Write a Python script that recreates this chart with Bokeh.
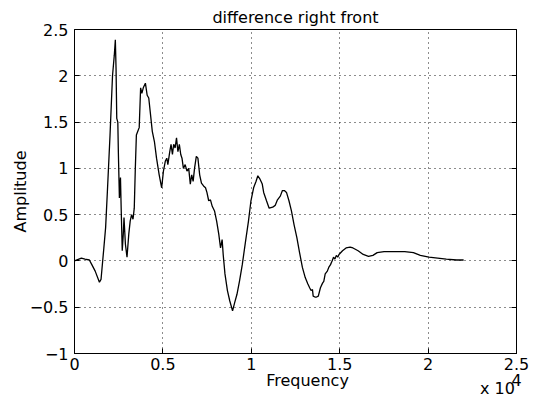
from bokeh.plotting import figure
from bokeh.models import Range1d, FixedTicker, LinearAxis
from bokeh.embed import file_html
from bokeh.resources import INLINE

# ---- data ----
freq = [0, 390, 590, 840, 980, 1170, 1410, 1500, 1660, 1760, 1860, 2010, 2150, 2250, 2310,
        2350, 2390, 2450, 2480, 2540, 2600, 2640, 2700, 2760, 2800, 2880, 2970, 3070, 3150,
        3230, 3310, 3380, 3440, 3500, 3580, 3660, 3740, 3810, 3890, 4010, 4110, 4200, 4300,
        4400, 4520, 4640, 4790, 4930, 5030, 5140, 5220, 5280, 5380, 5460, 5540, 5610, 5690,
        5770, 5850, 5930, 6010, 6080, 6160, 6260, 6360, 6460, 6550, 6630, 6710, 6790, 6890,
        6980, 7080, 7180, 7300, 7410, 7490, 7590, 7690, 7790, 7920, 8040, 8160, 8260, 8350,
        8410, 8510, 8650, 8780, 8940, 9060, 9190, 9330, 9490, 9680, 9840, 9980, 10130, 10270,
        10370, 10500, 10620, 10700, 10860, 11010, 11210, 11350, 11480, 11640, 11760, 11870,
        11990, 12130, 12270, 12420, 12580, 12730, 12890, 13050, 13200, 13300, 13380, 13460,
        13500, 13600, 13690, 13790, 13910, 14030, 14100, 14180, 14300, 14380, 14480, 14570,
        14650, 14730, 14810, 14890, 14960, 15160, 15360, 15590, 15750, 16040, 16330, 16630,
        16880, 17120, 17510, 18090, 18680, 19170, 19560, 20050, 20540, 21030, 21620, 22010]
amp = [0.0, 0.03, 0.02, 0.01, -0.04, -0.11, -0.23, -0.20, 0.14, 0.36, 0.75, 1.36, 2.00, 2.22, 2.39,
       2.08, 1.54, 1.50, 1.18, 0.68, 0.90, 0.57, 0.11, 0.29, 0.47, 0.18, 0.04, 0.29, 0.43,
       0.50, 0.45, 0.57, 1.00, 1.36, 1.40, 1.44, 1.87, 1.81, 1.87, 1.92, 1.79, 1.76, 1.58,
       1.40, 1.29, 1.11, 0.93, 0.79, 0.97, 1.08, 1.11, 1.04, 1.17, 1.26, 1.15, 1.26, 1.22,
       1.33, 1.18, 1.26, 1.15, 1.11, 1.00, 1.04, 0.97, 1.00, 0.83, 0.93, 0.86, 1.00, 1.13,
       1.11, 0.93, 0.84, 0.81, 0.79, 0.74, 0.65, 0.66, 0.59, 0.54, 0.43, 0.29, 0.14, 0.23,
       0.07, -0.14, -0.32, -0.43, -0.54, -0.45, -0.36, -0.22, -0.04, 0.22, 0.43, 0.65, 0.79, 0.86,
       0.92, 0.88, 0.83, 0.74, 0.65, 0.57, 0.58, 0.60, 0.66, 0.70, 0.76, 0.76,
       0.74, 0.65, 0.54, 0.39, 0.25, 0.09, -0.07, -0.18, -0.25, -0.29, -0.32, -0.31,
       -0.38, -0.39, -0.39, -0.38, -0.29, -0.24, -0.22, -0.14, -0.11, -0.07, -0.04, 0.0,
       0.04, 0.02, 0.06, 0.04, 0.07, 0.11, 0.14, 0.15, 0.14, 0.11, 0.07, 0.05,
       0.06, 0.09, 0.10, 0.10, 0.10, 0.09, 0.06, 0.04, 0.03, 0.02, 0.01, 0.01]

x_ticks = [0, 5000, 10000, 15000, 20000, 25000]
x_tick_labels = ["0", "0.5", "1", "1.5", "2", "2.5"]
y_ticks = [-1, -0.5, 0, 0.5, 1, 1.5, 2, 2.5]
y_tick_labels = ["\u22121", "\u22120.5", "0", "0.5", "1", "1.5", "2", "2.5"]

title_text = "difference right front"
x_label = "Frequency"
y_label = "Amplitude"
exp_base = "x 10"
exp_power = "4"

FONT = "DejaVu Sans"
FS = "16px"

p = figure(width=542, height=401, output_backend="svg", toolbar_location=None,
           x_range=Range1d(0, 25000), y_range=Range1d(-1, 2.5),
           min_border_left=74, min_border_right=26, min_border_top=29, min_border_bottom=48,
           background_fill_color="white", border_fill_color="white")
p.outline_line_color = "black"
p.outline_line_width = 1

# title
p.title.text = title_text
p.title.align = "center"
p.title.text_font = FONT
p.title.text_font_size = FS
p.title.text_font_style = "normal"
p.title.text_color = "black"
p.title.standoff = 6


def style_axis(ax):
    ax.major_label_text_font = FONT
    ax.major_label_text_font_size = FS
    ax.major_label_text_color = "black"
    ax.axis_label_text_font = FONT
    ax.axis_label_text_font_size = FS
    ax.axis_label_text_font_style = "normal"
    ax.axis_label_text_color = "black"
    ax.minor_tick_in = 0
    ax.minor_tick_out = 0


# main axes
for ax, ticks, labels in ((p.xaxis[0], x_ticks, x_tick_labels), (p.yaxis[0], y_ticks, y_tick_labels)):
    ax.ticker = FixedTicker(ticks=ticks)
    ax.major_label_overrides = {t: l for t, l in zip(ticks, labels)}
    ax.major_tick_in = 5
    ax.major_tick_out = 0
    ax.axis_line_color = "black"
    ax.major_tick_line_color = "black"
    style_axis(ax)
p.xaxis.major_label_standoff = 4
p.yaxis.major_label_standoff = 6
p.yaxis.axis_label = y_label
p.yaxis.axis_label_standoff = -3

# box ticks on the right side
right = LinearAxis(ticker=FixedTicker(ticks=y_ticks), major_tick_in=5, major_tick_out=0,
                   minor_tick_in=0, minor_tick_out=0, major_label_text_alpha=0,
                   major_label_text_font_size="1px", major_label_standoff=0)
p.add_layout(right, "right")

# x label row ("Frequency" and the exponent digit) and the "x 10" row
lab_pos = 13180
exp_pos = 23925
row1 = LinearAxis(ticker=FixedTicker(ticks=[lab_pos, 25000]),
                  major_label_overrides={lab_pos: x_label, 25000: exp_power},
                  axis_line_color=None, major_tick_line_color=None,
                  major_tick_in=0, major_tick_out=0, major_label_standoff=-2)
style_axis(row1)
p.add_layout(row1, "below")
row2 = LinearAxis(ticker=FixedTicker(ticks=[exp_pos]),
                  major_label_overrides={exp_pos: exp_base},
                  axis_line_color=None, major_tick_line_color=None,
                  major_tick_in=0, major_tick_out=0, major_label_standoff=-14)
style_axis(row2)
p.add_layout(row2, "below")

# grid
for g in (p.xgrid[0], p.ygrid[0]):
    g.grid_line_color = "black"
    g.grid_line_dash = "1 4"
    g.grid_line_width = 1
    g.grid_line_alpha = 0.9
p.xgrid.ticker = FixedTicker(ticks=x_ticks)
p.ygrid.ticker = FixedTicker(ticks=y_ticks)

p.line(freq, amp, line_color="black", line_width=1.3)

open("out.html", "w").write(file_html(p, INLINE))
